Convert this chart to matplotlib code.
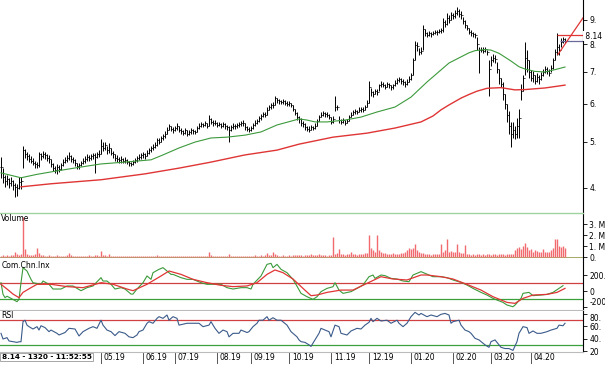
import matplotlib
import matplotlib.pyplot as plt
import matplotlib.transforms as mtransforms
import numpy as np
from matplotlib.ticker import NullLocator

matplotlib.use("Agg")

# daily OHLC (open = previous close)
close = [4.43, 4.21, 4.13, 4.17, 4.09, 4.13, 4.05, 4.01, 3.99, 4.11,
         4.13, 4.80, 4.70, 4.66, 4.60, 4.56, 4.52, 4.48, 4.46, 4.70,
         4.66, 4.72, 4.68, 4.62, 4.60, 4.48, 4.40, 4.36, 4.42, 4.38,
         4.46, 4.54, 4.58, 4.62, 4.66, 4.60, 4.58, 4.50, 4.44, 4.46,
         4.52, 4.56, 4.60, 4.64, 4.62, 4.66, 4.68, 4.64, 4.70, 4.72,
         4.90, 4.86, 4.92, 4.80, 4.84, 4.74, 4.70, 4.62, 4.60, 4.58,
         4.60, 4.56, 4.58, 4.54, 4.50, 4.48, 4.54, 4.58, 4.62, 4.64,
         4.68, 4.70, 4.66, 4.74, 4.80, 4.84, 4.88, 4.92, 5.04, 5.00,
         5.08, 5.14, 5.20, 5.30, 5.38, 5.32, 5.28, 5.34, 5.40, 5.30,
         5.26, 5.22, 5.28, 5.20, 5.24, 5.28, 5.26, 5.24, 5.34, 5.40,
         5.44, 5.42, 5.46, 5.40, 5.58, 5.50, 5.46, 5.48, 5.42, 5.44,
         5.40, 5.44, 5.38, 5.36, 5.30, 5.36, 5.40, 5.38, 5.42, 5.44,
         5.46, 5.48, 5.36, 5.32, 5.30, 5.34, 5.42, 5.48, 5.52, 5.60,
         5.66, 5.72, 5.70, 5.84, 5.92, 5.98, 5.96, 6.16, 6.10, 6.08,
         6.06, 6.08, 6.04, 6.00, 6.02, 5.96, 5.86, 5.74, 5.64, 5.58,
         5.46, 5.44, 5.36, 5.32, 5.30, 5.36, 5.34, 5.40, 5.52, 5.62,
         5.70, 5.74, 5.72, 5.68, 5.64, 5.50, 5.58, 5.90, 5.90, 5.56,
         5.50, 5.54, 5.48, 5.52, 5.62, 5.70, 5.76, 5.80, 5.78, 5.84,
         5.86, 5.82, 5.90, 6.04, 6.50, 6.36, 6.30, 6.40, 6.36, 6.56,
         6.62, 6.58, 6.52, 6.60, 6.56, 6.50, 6.56, 6.64, 6.72, 6.76,
         6.70, 6.66, 6.60, 6.68, 6.78, 6.90, 7.40, 7.96, 7.92, 7.70,
         7.76, 8.60, 8.44, 8.38, 8.44, 8.40, 8.46, 8.50, 8.48, 8.54,
         8.56, 8.90, 8.84, 9.10, 9.00, 9.20, 9.16, 9.30, 9.40, 9.26,
         9.20, 8.96, 8.80, 8.66, 8.50, 8.46, 8.40, 8.36, 8.00, 7.80,
         7.80, 7.76, 7.82, 7.70, 7.10, 7.40, 7.50, 7.44, 7.10, 6.80,
         6.62, 6.30, 6.00, 5.70, 5.40, 5.20, 5.30, 5.20, 5.40, 5.60,
         6.40, 6.80, 7.50, 7.40, 7.00, 6.80, 6.90, 6.70, 6.84, 6.76,
         6.90, 7.00, 7.10, 7.04, 6.96, 7.14, 7.40, 7.70, 7.90, 7.80,
         8.10, 8.20, 8.14]
high = [4.64, 4.40, 4.25, 4.26, 4.20, 4.22, 4.16, 4.10, 4.08, 4.22,
        4.22, 4.90, 4.82, 4.76, 4.70, 4.66, 4.62, 4.56, 4.54, 4.76,
        4.74, 4.78, 4.75, 4.70, 4.68, 4.60, 4.50, 4.44, 4.48, 4.46,
        4.52, 4.60, 4.64, 4.68, 4.76, 4.68, 4.64, 4.60, 4.52, 4.52,
        4.56, 4.62, 4.66, 4.70, 4.68, 4.72, 4.74, 4.74, 4.76, 4.80,
        5.06, 4.98, 4.98, 4.90, 4.96, 4.86, 4.78, 4.72, 4.68, 4.64,
        4.66, 4.62, 4.64, 4.60, 4.56, 4.54, 4.58, 4.62, 4.66, 4.70,
        4.74, 4.76, 4.74, 4.80, 4.86, 4.90, 4.94, 4.98, 5.10, 5.08,
        5.14, 5.20, 5.26, 5.36, 5.44, 5.40, 5.36, 5.40, 5.46, 5.38,
        5.34, 5.30, 5.34, 5.28, 5.30, 5.34, 5.32, 5.30, 5.40, 5.46,
        5.50, 5.48, 5.52, 5.48, 5.68, 5.60, 5.54, 5.54, 5.50, 5.50,
        5.46, 5.50, 5.46, 5.42, 5.40, 5.42, 5.46, 5.44, 5.48, 5.50,
        5.52, 5.54, 5.46, 5.40, 5.36, 5.40, 5.48, 5.54, 5.58, 5.66,
        5.72, 5.78, 5.78, 5.90, 5.98, 6.04, 6.06, 6.24, 6.18, 6.14,
        6.12, 6.14, 6.10, 6.08, 6.08, 6.04, 5.96, 5.86, 5.76, 5.66,
        5.60, 5.52, 5.46, 5.40, 5.38, 5.42, 5.40, 5.46, 5.58, 5.68,
        5.76, 5.80, 5.78, 5.76, 5.72, 5.62, 5.66, 6.24, 5.98, 5.66,
        5.58, 5.60, 5.56, 5.58, 5.68, 5.76, 5.82, 5.86, 5.84, 5.90,
        5.92, 5.90, 5.96, 6.10, 6.70, 6.48, 6.40, 6.46, 6.44, 6.62,
        6.70, 6.66, 6.60, 6.66, 6.64, 6.58, 6.62, 6.72, 6.80, 6.84,
        6.80, 6.76, 6.70, 6.76, 6.86, 6.96, 7.50, 8.14, 8.10, 7.86,
        7.90, 8.80, 8.62, 8.50, 8.52, 8.48, 8.54, 8.58, 8.56, 8.62,
        8.64, 9.10, 9.00, 9.30, 9.20, 9.36, 9.30, 9.44, 9.58, 9.48,
        9.40, 9.12, 8.98, 8.80, 8.66, 8.56, 8.50, 8.46, 8.30, 7.90,
        7.90, 7.88, 7.90, 7.80, 7.40, 7.56, 7.62, 7.60, 7.34, 7.10,
        6.80, 6.66, 6.30, 6.00, 5.80, 5.50, 5.50, 5.40, 5.60, 5.86,
        6.62, 6.90, 8.10, 7.80, 7.40, 7.06, 7.02, 6.90, 6.96, 6.90,
        7.00, 7.10, 7.22, 7.16, 7.10, 7.24, 7.50, 7.84, 8.46, 8.00,
        8.24, 8.28, 8.24]
low = [4.20, 4.10, 4.02, 4.05, 4.00, 4.03, 3.95, 3.82, 3.84, 3.98,
       3.98, 4.40, 4.62, 4.58, 4.54, 4.50, 4.46, 4.40, 4.40, 4.42,
       4.58, 4.62, 4.60, 4.56, 4.52, 4.42, 4.34, 4.30, 4.28, 4.32,
       4.36, 4.44, 4.50, 4.54, 4.58, 4.54, 4.50, 4.44, 4.38, 4.38,
       4.44, 4.48, 4.52, 4.56, 4.56, 4.58, 4.60, 4.30, 4.62, 4.64,
       4.70, 4.78, 4.80, 4.72, 4.74, 4.68, 4.62, 4.56, 4.54, 4.52,
       4.52, 4.50, 4.52, 4.48, 4.44, 4.44, 4.46, 4.50, 4.54, 4.58,
       4.60, 4.62, 4.60, 4.66, 4.72, 4.76, 4.80, 4.84, 4.90, 4.94,
       5.00, 5.04, 5.10, 5.18, 5.28, 5.26, 5.22, 5.26, 5.30, 5.24,
       5.20, 5.16, 5.20, 5.14, 5.16, 5.20, 5.20, 5.18, 5.24, 5.32,
       5.36, 5.36, 5.38, 5.34, 5.40, 5.44, 5.40, 5.42, 5.36, 5.38,
       5.34, 5.36, 5.32, 5.28, 5.00, 5.26, 5.32, 5.32, 5.34, 5.36,
       5.38, 5.40, 5.30, 5.26, 5.24, 5.26, 5.32, 5.40, 5.44, 5.50,
       5.56, 5.62, 5.62, 5.70, 5.82, 5.86, 5.88, 5.96, 6.02, 6.00,
       6.00, 6.00, 5.98, 5.94, 5.94, 5.90, 5.80, 5.68, 5.56, 5.48,
       5.40, 5.36, 5.30, 5.26, 5.24, 5.28, 5.28, 5.32, 5.40, 5.52,
       5.62, 5.66, 5.64, 5.62, 5.58, 5.44, 5.46, 5.80, 5.82, 5.48,
       5.44, 5.46, 5.42, 5.46, 5.52, 5.62, 5.68, 5.72, 5.72, 5.76,
       5.78, 5.76, 5.82, 5.92, 6.04, 6.24, 6.20, 6.28, 6.26, 6.40,
       6.52, 6.50, 6.44, 6.50, 6.48, 6.42, 6.46, 6.54, 6.60, 6.66,
       6.62, 6.58, 6.52, 6.58, 6.66, 6.74, 6.90, 7.40, 7.76, 7.60,
       7.62, 7.80, 8.34, 8.30, 8.34, 8.30, 8.36, 8.40, 8.38, 8.44,
       8.46, 8.50, 8.70, 8.80, 8.86, 9.00, 9.02, 9.10, 9.20, 9.12,
       9.04, 8.84, 8.64, 8.56, 8.40, 8.34, 8.30, 8.26, 7.80, 6.96,
       7.70, 7.68, 7.70, 7.60, 6.24, 7.20, 7.36, 7.30, 6.96, 6.60,
       6.50, 6.10, 5.86, 5.50, 5.20, 4.88, 5.10, 5.06, 5.10, 5.10,
       6.12, 6.40, 6.90, 7.00, 6.80, 6.70, 6.68, 6.62, 6.66, 6.60,
       6.74, 6.88, 6.96, 6.94, 6.88, 7.00, 7.10, 7.40, 7.60, 7.60,
       7.90, 8.04, 8.06]

# volume in millions
volume = [0.12, 0.15, 0.10, 0.18, 0.12, 0.20, 0.15, 0.45, 0.25, 0.18,
          0.30, 3.60, 0.75, 0.30, 0.20, 0.15, 0.20, 0.25, 0.80, 0.35,
          0.20, 0.15, 0.12, 0.10, 0.15, 0.12, 0.10, 0.12, 0.15, 0.10,
          0.10, 0.12, 0.10, 0.15, 0.40, 0.15, 0.10, 0.08, 0.10, 0.12,
          0.10, 0.08, 0.12, 0.10, 0.15, 0.12, 0.10, 0.20, 0.15, 0.12,
          0.55, 0.20, 0.15, 0.12, 0.30, 0.12, 0.10, 0.08, 0.10, 0.08,
          0.08, 0.10, 0.08, 0.06, 0.08, 0.10, 0.08, 0.06, 0.08, 0.10,
          0.10, 0.08, 0.10, 0.12, 0.10, 0.08, 0.10, 0.12, 0.20, 0.10,
          0.08, 0.10, 0.08, 0.10, 0.12, 0.08, 0.06, 0.08, 0.10, 0.08,
          0.06, 0.08, 0.06, 0.05, 0.06, 0.08, 0.06, 0.08, 0.10, 0.08,
          0.10, 0.08, 0.12, 0.10, 0.45, 0.15, 0.10, 0.08, 0.06, 0.08,
          0.06, 0.08, 0.10, 0.12, 0.30, 0.10, 0.08, 0.10, 0.08, 0.06,
          0.08, 0.10, 0.08, 0.06, 0.08, 0.10, 0.12, 0.15, 0.12, 0.10,
          0.15, 0.12, 0.18, 0.40, 0.20, 0.15, 0.50, 0.25, 0.15, 0.12,
          0.10, 0.15, 0.12, 0.10, 0.15, 0.12, 0.20, 0.18, 0.15, 0.20,
          0.15, 0.12, 0.18, 0.15, 0.20, 0.25, 0.20, 0.15, 0.20, 0.25,
          0.20, 0.18, 0.15, 0.12, 0.15, 0.20, 1.80, 0.30, 0.35, 0.70,
          0.30, 0.25, 0.20, 0.30, 0.25, 0.45, 0.30, 0.25, 0.20, 0.30,
          0.25, 0.30, 0.35, 0.40, 2.00, 0.80, 0.60, 0.50, 2.00, 0.60,
          0.50, 0.40, 0.35, 0.30, 0.25, 0.30, 0.35, 0.30, 0.25, 0.30,
          0.35, 0.40, 0.50, 0.60, 0.80, 0.70, 0.80, 1.20, 0.60, 0.45,
          0.40, 0.35, 0.30, 0.25, 0.30, 0.20, 0.25, 0.30, 0.25, 0.30,
          1.20, 0.50, 0.60, 1.60, 0.50, 0.55, 0.50, 0.45, 1.20, 0.50,
          0.40, 0.35, 1.10, 0.30, 0.25, 0.20, 0.25, 0.20, 0.30, 0.25,
          0.20, 0.25, 0.20, 0.30, 0.25, 0.20, 0.30, 0.25, 0.20, 0.30,
          0.25, 0.30, 0.20, 0.25, 0.30, 0.25, 0.30, 0.60, 0.80, 0.90,
          0.70, 1.00, 1.30, 0.90, 0.60, 0.70, 0.50, 0.60, 0.55, 0.50,
          0.45, 0.70, 0.50, 0.45, 0.50, 0.60, 0.80, 1.60, 1.60, 1.00,
          0.90, 1.00, 0.80]

# moving averages read at bar positions
ma_fast_x = [0, 10, 18, 25, 38, 50, 62, 75, 81, 89, 97, 105, 113, 122, 130, 138, 145,
             149, 153, 157, 163, 172, 180, 188, 197, 205, 213, 220, 224, 230, 234, 237,
             242, 245, 249, 252, 255, 259, 262, 267, 272, 277, 282]
ma_fast = [4.30, 4.20, 4.27, 4.32, 4.41, 4.49, 4.53, 4.58, 4.69, 4.85, 4.99, 5.09, 5.11,
           5.16, 5.24, 5.42, 5.52, 5.58, 5.55, 5.50, 5.50, 5.55, 5.63, 5.77, 5.91, 6.20,
           6.67, 7.07, 7.31, 7.53, 7.68, 7.76, 7.80, 7.78, 7.66, 7.52, 7.38, 7.18, 7.10,
           7.02, 7.00, 7.08, 7.17]
ma_slow_x = [10, 25, 50, 72, 89, 105, 122, 138, 149, 166, 183, 197, 210, 216, 220, 224,
             230, 234, 238, 243, 250, 257, 262, 272, 282]
ma_slow = [4.02, 4.08, 4.16, 4.28, 4.40, 4.53, 4.69, 4.80, 4.94, 5.11, 5.21, 5.34, 5.50,
           5.66, 5.83, 5.97, 6.17, 6.28, 6.38, 6.47, 6.49, 6.42, 6.43, 6.48, 6.57]

# commodity channel index and its average
cci_x = [0, 1, 2, 3, 6, 8, 9, 10, 11, 13, 15, 16, 20, 21, 24, 26, 30, 33, 36, 40, 43,
         46, 50, 51, 53, 55, 57, 60, 62, 65, 66, 68, 71, 73, 75, 76, 79, 81, 83, 85, 86,
         90, 93, 96, 100, 103, 106, 110, 113, 116, 120, 123, 125, 126, 130, 133, 135,
         136, 138, 140, 143, 146, 148, 150, 153, 156, 158, 160, 163, 166, 167, 169, 171,
         175, 178, 181, 184, 186, 187, 190, 192, 195, 198, 201, 204, 206, 208, 210, 212,
         216, 220, 223, 226, 230, 233, 236, 240, 243, 246, 248, 251, 253, 256, 257, 260,
         261, 264, 266, 270, 273, 276, 279, 281]
cci = [104, -40, -83, -65, -105, -133, -104, 104, 292, 250, 146, 104, 84, 125, 84, 25,
       25, 63, 63, 4, 42, 63, 167, 125, 125, 84, 25, 42, 25, -38, -38, 25, 104, 188, 146,
       229, 271, 292, 250, 208, 208, 167, 146, 146, 104, 84, 84, 84, 42, 25, 42, 42, 25,
       84, 188, 333, 346, 292, 333, 271, 229, 146, 60, -29, -71, -104, -71, -8, 33, 54,
       104, 12, -29, -8, 33, 75, 179, 200, 158, 200, 192, 158, 150, 125, 117, 200, 221,
       242, 221, 179, 179, 167, 138, 108, 75, 33, -17, -50, -92, -113, -142, -175, -196,
       -175, -92, -29, -17, -58, -50, -42, -17, 33, 67]
cci_avg_x = [0, 3, 6, 9, 11, 15, 18, 25, 33, 41, 50, 56, 63, 66, 73, 80, 84, 90, 96, 103,
             110, 116, 123, 128, 133, 137, 141, 146, 149, 152, 155, 158, 163, 170, 176,
             183, 190, 196, 203, 210, 213, 220, 226, 233, 240, 246, 253, 257, 261, 266,
             273, 278, 282]
cci_avg = [84, 25, -38, -83, -17, 42, 84, 84, 55, 42, 104, 84, 25, 4, 84, 188, 250, 208,
           146, 104, 71, 55, 63, 104, 208, 263, 229, 150, 80, 10, -58, -50, -17, 12, 12,
           96, 179, 150, 138, 200, 200, 179, 150, 83, 12, -71, -142, -154, -92, -50, -42,
           -17, 33]

# relative strength index
rsi_x = [0, 1, 3, 4, 8, 9, 10, 11, 12, 13, 14, 16, 18, 19, 20, 22, 24, 25, 28, 29, 32, 34,
         37, 39, 41, 44, 46, 48, 50, 51, 53, 55, 57, 59, 62, 64, 66, 68, 69, 71, 73, 74,
         76, 78, 79, 81, 83, 84, 86, 88, 89, 93, 96, 99, 101, 104, 105, 107, 109, 111,
         113, 114, 116, 119, 120, 123, 124, 126, 128, 129, 131, 133, 134, 136, 138, 140,
         143, 145, 148, 149, 150, 152, 154, 155, 157, 159, 160, 162, 164, 165, 167, 169,
         170, 173, 175, 178, 180, 182, 184, 185, 186, 188, 190, 193, 195, 198, 199, 201,
         203, 205, 207, 209, 210, 213, 215, 218, 220, 222, 224, 225, 226, 229, 230, 232,
         234, 235, 237, 239, 242, 244, 245, 247, 249, 250, 252, 254, 256, 258, 259, 261,
         263, 264, 266, 268, 270, 273, 275, 278, 279, 281, 282]
rsi = [48.7, 39.5, 41.7, 36.3, 34, 35, 35, 67.6, 70, 62, 59.5, 55.7, 59.5, 54, 61, 58,
       51.4, 54, 48.7, 46, 50, 56.8, 55.7, 44.4, 51.4, 56.8, 59.5, 56.8, 70, 62, 54, 51.4,
       45, 51.4, 48.7, 43, 41.7, 46, 51.4, 54, 65, 67.6, 65, 73, 75.7, 73, 78.4, 70, 75.7,
       73, 62, 65, 65, 65, 59.5, 62, 67.6, 56.8, 48.7, 54, 51.4, 43, 48.7, 48.7, 54, 50,
       51.4, 59.5, 65, 70, 70, 75.7, 70, 74, 70, 70, 62, 51.4, 43, 38, 35.2, 34, 30, 27.5,
       38, 48.7, 56.8, 54, 51.4, 43, 62, 59.5, 48.7, 46, 52.5, 56.8, 55.7, 62, 66.5, 73,
       67.6, 73, 68.7, 70, 65, 70, 65, 59.5, 65, 75.7, 82.7, 78.4, 81, 75.7, 78.4, 75.7,
       79.5, 81, 78.4, 65, 67.6, 70, 62, 54, 51.4, 48.7, 40.6, 38, 30, 26, 35.2, 38, 30,
       26, 24, 24, 21, 35.2, 48.7, 59.5, 58, 48.7, 52.5, 48.7, 48.7, 51.4, 54, 56.8, 62,
       61, 65]

month_pos = [50, 71, 87, 108, 125, 144, 165, 184, 205, 226, 245, 265]
month_labels = ["05.19", "06.19", "07.19", "08.19", "09.19", "10.19",
                "11.19", "12.19", "01.20", "02.20", "03.20", "04.20"]

last_price = 8.14
resist_level = 8.38
trend_x = [278.5, 291]
trend_y = [7.62, 9.09]

FS = 5.5
W, H = 605, 367
fig = plt.figure(figsize=(W / 100, H / 100), dpi=100)


def panel(top, bottom):
    ax = fig.add_axes([0, 1 - bottom / H, 583 / W, (bottom - top) / H])
    ax.set_xlim(-0.5, 291)
    ax.yaxis.tick_right()
    ax.tick_params(axis="y", direction="out", length=3, width=0.6, labelsize=FS, pad=1.5)
    ax.tick_params(axis="x", bottom=False, labelbottom=False)
    for s in ["left", "top", "bottom"]:
        ax.spines[s].set_visible(False)
    ax.spines["right"].set_linewidth(0.8)
    return ax


x = np.arange(len(close))
opens = [close[0]] + close[:-1]

# price panel
ax = panel(0, 212)
ax.set_yscale("log")
ax.set_ylim(3.56, 9.91)
ax.vlines(x, low, high, color="black", lw=0.7)
ax.hlines(opens, x - 0.7, x, color="black", lw=0.6)
ax.hlines(close, x, x + 0.7, color="black", lw=0.6)
ax.plot(ma_fast_x, ma_fast, color="#3c9a3c", lw=0.8)
ax.plot(ma_slow_x, ma_slow, color="#e03535", lw=1.0)
ax.hlines(resist_level, 278, 291, color="#e03535", lw=0.9)
ax.hlines(last_price, 279.5, 291, color="#6a6a9a", lw=0.9)
ax.plot(trend_x, trend_y, color="#e03535", lw=0.9)
ax.set_yticks([4, 5, 6, 7, 8, 9])
ax.set_yticklabels(["4.", "5.", "6.", "7.", "8.", "9."])
ax.yaxis.set_minor_locator(NullLocator())
ax.text(1.0, last_price, " %.2f" % last_price,
        transform=mtransforms.blended_transform_factory(ax.transAxes, ax.transData),
        fontsize=FS, va="bottom", ha="left", clip_on=False,
        bbox=dict(facecolor="white", edgecolor="none", pad=0.3))

# volume panel
axv = panel(213, 258)
axv.set_ylim(-0.09, 4.0)
axv.axhline(0, color="#9a9a50", lw=0.6, zorder=1)
axv.vlines(x, 0, volume, color="#f06a6e", lw=1.0, zorder=2)
axv.spines["top"].set_visible(True)
axv.spines["top"].set_color("#9fd49f")
axv.spines["top"].set_linewidth(1.0)
axv.set_yticks([0, 1, 2, 3])
axv.set_yticklabels(["0.", "1. M", "2. M", "3. M"])
axv.text(0.002, 0.88, "Volume", transform=axv.transAxes, fontsize=FS, va="center", ha="left")

# CCI panel
axc = panel(259, 310)
axc.set_ylim(-237, 400)
axc.axhline(100, color="#d04040", lw=0.9)
axc.axhline(-100, color="#3aa03a", lw=0.9)
axc.plot(cci_x, cci, color="#3a9a3a", lw=0.8)
axc.plot(cci_avg_x, cci_avg, color="#e03535", lw=0.9)
axc.spines["bottom"].set_visible(True)
axc.spines["bottom"].set_color("#bbbbbb")
axc.set_yticks([-200, 0, 200])
axc.set_yticklabels(["-200", "0", "200."])
axc.get_yticklabels()[0].set_va("bottom")
axc.text(0.002, 0.88, "Com.Chn.Inx", transform=axc.transAxes, fontsize=FS, va="center", ha="left")

# RSI panel
axr = panel(311, 352)
axr.set_ylim(18.4, 84.9)
axr.axhline(70, color="#d04040", lw=0.9)
axr.axhline(30, color="#3aa03a", lw=0.9)
axr.plot(rsi_x, rsi, color="#3a5a8a", lw=0.8)
axr.spines["bottom"].set_visible(True)
axr.spines["bottom"].set_color("#bbbbbb")
axr.set_yticks([20, 40, 60, 80])
axr.set_yticklabels(["20", "40.", "60.", "80."])
axr.get_yticklabels()[-1].set_va("top")
axr.text(0.002, 0.88, "RSI", transform=axr.transAxes, fontsize=FS, va="center", ha="left")

# date row
trans = mtransforms.blended_transform_factory(axr.transData, axr.transAxes)
for pos, lab in zip(month_pos, month_labels):
    axr.plot([pos, pos], [-0.03, -0.27], transform=trans, color="#555555", lw=0.7, clip_on=False)
    axr.text(pos + 1.5, -0.13, lab, transform=trans, fontsize=FS, va="center", ha="left")

fig.text(0.003, 1 - 357 / H, "8.14 - 1320 - 11:52:55", fontsize=5.2, fontweight="bold",
         va="center", ha="left",
         bbox=dict(facecolor="white", edgecolor="#999999", lw=0.6, pad=1.0))

fig.savefig("out.png", dpi=100)
